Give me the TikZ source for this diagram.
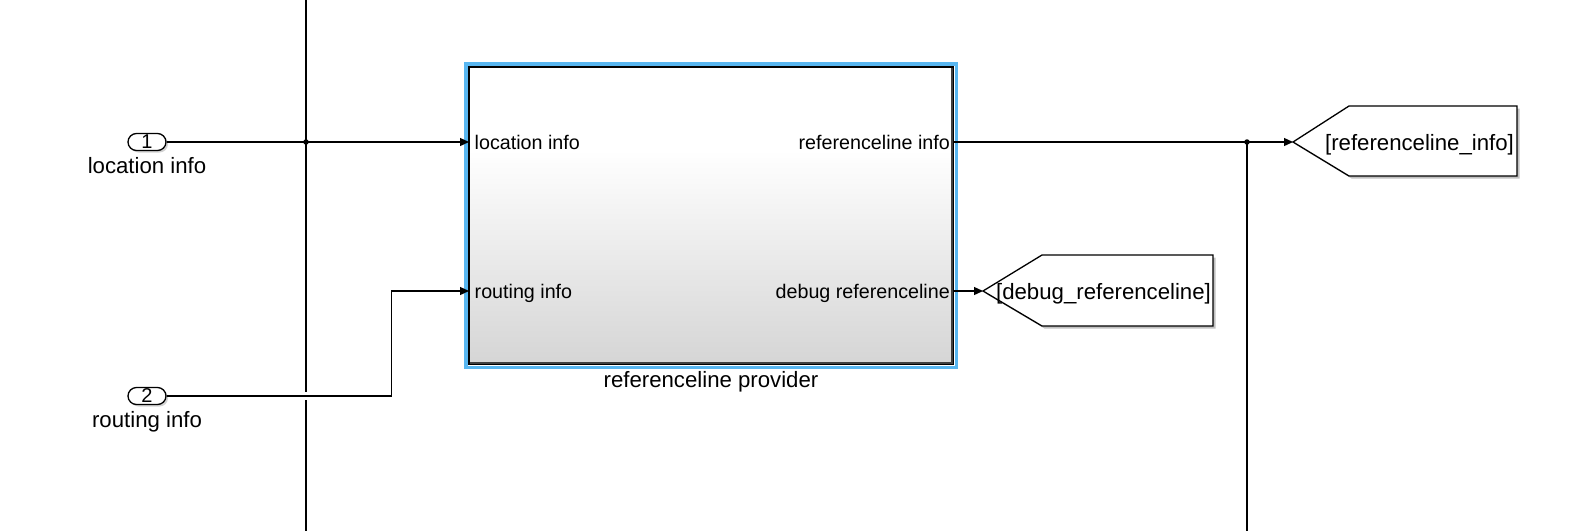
\documentclass[tikz,border=0pt]{standalone}
\usepackage{fontspec}
\setmainfont{Liberation Sans}
\usetikzlibrary{arrows.meta,shadows}
\definecolor{selblue}{RGB}{88,182,240}
\definecolor{blkgray}{RGB}{213,213,213}
\pgfdeclareverticalshading{blkshade}{100bp}{color(0bp)=(blkgray); color(25bp)=(blkgray); color(61bp)=(white); color(100bp)=(white)}
\tikzset{
  wire/.style={line width=1.3pt, draw=black},
  arr/.style={wire, -{Triangle[length=9pt,width=8pt]}},
  portlbl/.style={inner sep=0pt, font=\fontsize{19.7}{22}\selectfont},
  biglbl/.style={inner sep=0pt, font=\fontsize{22.2}{26}\selectfont},
  inlbl/.style={inner sep=0pt, font=\fontsize{22.2}{26}\selectfont},
  inport/.style={draw, line width=1.3pt, rounded corners=8.5pt, minimum width=38pt, minimum height=17pt, inner sep=0pt, fill=white, font=\fontsize{20}{20}\selectfont, drop shadow={shadow xshift=2pt, shadow yshift=-2pt, opacity=0.35}},
  gotoshape/.style={draw, line width=1.3pt, fill=white},
  gshadow/.style={fill=black!40, draw=none, opacity=0.6},
  jdot/.style={circle, fill=black, inner sep=0pt, minimum size=5.5pt},
  blockbox/.style={draw=black, line width=1.4pt, minimum width=484pt, minimum height=297pt, inner sep=0pt, shade, shading=blkshade},
}
\begin{document}
\begin{tikzpicture}[x=1pt,y=-1pt]
\useasboundingbox (0,0) rectangle (1583,531);
\fill[white] (0,0) rectangle (1583,531);

% block
\node[blockbox] (blk) at (711,215.5) {};
\draw[black!75, line width=1.6pt] ([xshift=-1.6pt,yshift=-2pt]blk.north east) -- ([xshift=-1.6pt,yshift=1.6pt]blk.south east) -- ([xshift=2pt,yshift=1.6pt]blk.south west);
\draw[selblue, line width=3.2pt] ([xshift=-2.4pt,yshift=2.4pt]blk.north west) rectangle ([xshift=2.4pt,yshift=-2.4pt]blk.south east);

\coordinate (in1) at (469,142);
\coordinate (in2) at (469,291);
\coordinate (out1) at (953,142);
\coordinate (out2) at (953,291);

\node[portlbl, anchor=base west] (l1) at (474.5,149) {location info};
\node[portlbl, anchor=base west] (l2) at (474.5,298) {routing info};
\node[portlbl, anchor=base east] (l3) at (950,149) {referenceline info};
\node[portlbl, anchor=base east] (l4) at (950,298) {debug referenceline};
\node[biglbl, anchor=base] (lp) at (711,387.5) {referenceline provider};

% inports
\node[inport] (ip1) at (147,142) {1};
\node[inport] (ip2) at (147,396) {2};
\node[inlbl, anchor=base] (il1) at (147,173) {location info};
\node[inlbl, anchor=base] (il2) at (147,427) {routing info};

% goto tags
\coordinate (g1tip) at (1293,142);
\coordinate (g2tip) at (983,291);
\fill[gshadow] ([shift={(2.5,2.5)}]g1tip) -- ++(56,-36) -- ++(168,0) -- ++(0,70) -- ++(-168,0) -- cycle;
\draw[gotoshape] (g1tip) -- ++(56,-36) -- ++(168,0) -- ++(0,70) -- ++(-168,0) -- cycle;
\node[biglbl, anchor=base] (g1) at (1419.5,150) {[referenceline\_info]};
\fill[gshadow] ([shift={(2.5,2.5)}]g2tip) -- ++(59,-36) -- ++(171,0) -- ++(0,71) -- ++(-171,0) -- cycle;
\draw[gotoshape] (g2tip) -- ++(59,-36) -- ++(171,0) -- ++(0,71) -- ++(-171,0) -- cycle;
\node[biglbl, anchor=base] (g2) at (1103.5,299) {[debug\_referenceline]};

% junctions and free ends
\coordinate (j1) at (306,142);
\coordinate (j2) at (1247,142);
\coordinate (vtop) at (306,0);
\coordinate (vbot) at (306,531);
\coordinate (hopa) at (306,392);
\coordinate (hopb) at (306,400);
\coordinate (rbot) at (1247,531);

% wires
\draw[wire] (vtop) -- (j1) -- (hopa);
\draw[wire] (hopb) -- (vbot);
\draw[arr] (ip1.east) -- (j1) -- (in1);
\draw[arr] (ip2.east) -- ++(225,0) |- (in2);
\draw[arr] (out1) -- (j2) -- (g1tip);
\draw[wire] (j2) -- (rbot);
\draw[arr] (out2) -- (g2tip);
\node[jdot] at (j1) {};
\node[jdot] at (j2) {};
\end{tikzpicture}
\end{document}
